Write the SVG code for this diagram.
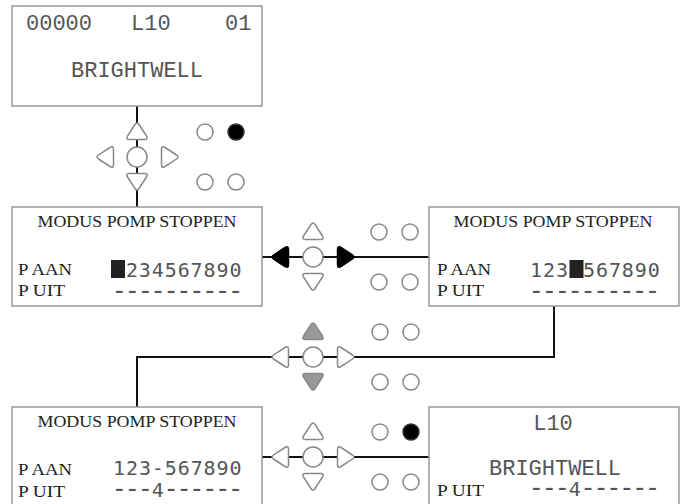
<svg xmlns="http://www.w3.org/2000/svg" xmlns:xlink="http://www.w3.org/1999/xlink" width="682" height="504" viewBox="0 0 682 504">
<style>
.box{fill:#fff;stroke:#999;stroke-width:1.5}
.wire{fill:none;stroke:#111;stroke-width:2}
.btn{fill:#fff;stroke:#888;stroke-width:1.5}
.on{fill:#000;stroke:#333;stroke-width:1.5}
.gray{fill:#999;stroke:#888;stroke-width:1.5}
.arr{fill:#000;stroke:#000;stroke-width:1.5}
.lcd{font-family:"Liberation Mono",monospace;font-size:22px;fill:#555}
.dig{font-family:"DejaVu Sans Mono",monospace;font-size:20px;fill:#555;letter-spacing:0.9px}
.dash{font-family:"DejaVu Sans Mono",monospace;font-size:26px;fill:#555;letter-spacing:-2.75px}
.lab{font-family:"Liberation Serif",serif;font-size:17px;fill:#222}
</style>
<defs>
<path id="tri" d="M -2,-6.5 Q 0,-9.5 2,-6.5 L 9.5,5 Q 11.5,8.5 7.5,8.5 L -7.5,8.5 Q -11.5,8.5 -9.5,5 Z"/>
</defs>

<g id="connectors">
<line class="wire" x1="137" y1="106" x2="137" y2="207"/>
<line class="wire" x1="262" y1="257" x2="429" y2="257"/>
<path class="wire" d="M554,306 V357 H137 V407"/>
<line class="wire" x1="262" y1="457" x2="429" y2="457"/>
</g>

<g id="screen-home">
<rect class="box" x="12" y="6" width="250" height="100"/>
<text class="lcd" x="26" y="30">00000</text>
<text class="lcd" x="131" y="30">L10</text>
<text class="lcd" x="225" y="30">01</text>
<text class="lcd" x="137" y="77" text-anchor="middle">BRIGHTWELL</text>
</g>

<g id="keypad-1">
<use href="#tri" class="btn" transform="translate(137,131)"/>
<use href="#tri" class="btn" transform="translate(137,182) rotate(180)"/>
<use href="#tri" class="btn" transform="translate(105,157) rotate(-90)"/>
<use href="#tri" class="btn" transform="translate(170,157) rotate(90)"/>
<circle class="btn" cx="137" cy="157" r="10"/>
<circle class="btn" cx="205" cy="132" r="8"/>
<circle class="on" cx="236" cy="132" r="8"/>
<circle class="btn" cx="205" cy="182" r="8"/>
<circle class="btn" cx="236" cy="182" r="8"/>
</g>

<g id="screen-stop-1">
<rect class="box" x="12" y="207" width="250" height="99"/>
<text class="lab" x="137" y="227" text-anchor="middle" textLength="199" lengthAdjust="spacingAndGlyphs">MODUS POMP STOPPEN</text>
<text class="lab" x="18" y="275" textLength="54" lengthAdjust="spacingAndGlyphs">P AAN</text>
<text class="lab" x="18" y="296" textLength="47" lengthAdjust="spacingAndGlyphs">P UIT</text>
<rect x="111" y="260" width="14" height="18" fill="#222"/>
<text class="dig" x="125.9" y="277">234567890</text>
<text class="dash" x="111.6" y="299">----------</text>
</g>

<g id="keypad-2">
<use href="#tri" class="arr" transform="translate(280,257) rotate(-90)"/>
<use href="#tri" class="arr" transform="translate(346,257) rotate(90)"/>
<use href="#tri" class="btn" transform="translate(313,231)"/>
<use href="#tri" class="btn" transform="translate(313,282) rotate(180)"/>
<circle class="btn" cx="313" cy="257" r="10"/>
<circle class="btn" cx="379" cy="232" r="8"/>
<circle class="btn" cx="410" cy="232" r="8"/>
<circle class="btn" cx="379" cy="282" r="8"/>
<circle class="btn" cx="410" cy="282" r="8"/>
</g>

<g id="screen-stop-2">
<rect class="box" x="429" y="207" width="250" height="99"/>
<text class="lab" x="553" y="227" text-anchor="middle" textLength="199" lengthAdjust="spacingAndGlyphs">MODUS POMP STOPPEN</text>
<text class="lab" x="437" y="275" textLength="54" lengthAdjust="spacingAndGlyphs">P AAN</text>
<text class="lab" x="437" y="296" textLength="47" lengthAdjust="spacingAndGlyphs">P UIT</text>
<text class="dig" x="530" y="277">123</text>
<rect x="569.5" y="260" width="14" height="18" fill="#222"/>
<text class="dig" x="583" y="277">567890</text>
<text class="dash" x="528.6" y="299">----------</text>
</g>

<g id="keypad-3">
<use href="#tri" class="btn" transform="translate(280,357) rotate(-90)"/>
<use href="#tri" class="btn" transform="translate(346,357) rotate(90)"/>
<use href="#tri" class="gray" transform="translate(313,331)"/>
<use href="#tri" class="gray" transform="translate(313,382) rotate(180)"/>
<circle class="btn" cx="313" cy="357" r="10"/>
<circle class="btn" cx="380" cy="332" r="8"/>
<circle class="btn" cx="411" cy="332" r="8"/>
<circle class="btn" cx="380" cy="382" r="8"/>
<circle class="btn" cx="411" cy="382" r="8"/>
</g>

<g id="screen-stop-3">
<rect class="box" x="12" y="407" width="250" height="110"/>
<text class="lab" x="137" y="427" text-anchor="middle" textLength="199" lengthAdjust="spacingAndGlyphs">MODUS POMP STOPPEN</text>
<text class="lab" x="18" y="475" textLength="54" lengthAdjust="spacingAndGlyphs">P AAN</text>
<text class="lab" x="18" y="497" textLength="47" lengthAdjust="spacingAndGlyphs">P UIT</text>
<text class="dig" x="113" y="475">123-567890</text>
<text class="dash" x="111.6" y="497">---<tspan class="dig" dx="1.4">4</tspan><tspan dx="-1.4">------</tspan></text>
</g>

<g id="keypad-4">
<use href="#tri" class="btn" transform="translate(280,457) rotate(-90)"/>
<use href="#tri" class="btn" transform="translate(346,457) rotate(90)"/>
<use href="#tri" class="btn" transform="translate(313,431)"/>
<use href="#tri" class="btn" transform="translate(313,482) rotate(180)"/>
<circle class="btn" cx="313" cy="457" r="10"/>
<circle class="btn" cx="380" cy="432" r="8"/>
<circle class="on" cx="411" cy="432" r="8"/>
<circle class="btn" cx="380" cy="482" r="8"/>
<circle class="btn" cx="411" cy="482" r="8"/>
</g>

<g id="screen-home-2">
<rect class="box" x="429" y="407" width="250" height="110"/>
<text class="lcd" x="553" y="430" text-anchor="middle">L10</text>
<text class="lcd" x="555" y="475" text-anchor="middle">BRIGHTWELL</text>
<text class="lab" x="437" y="496" textLength="47" lengthAdjust="spacingAndGlyphs">P UIT</text>
<text class="dash" x="528.6" y="496">---<tspan class="dig" dx="1.4">4</tspan><tspan dx="-1.4">------</tspan></text>
</g>
</svg>
